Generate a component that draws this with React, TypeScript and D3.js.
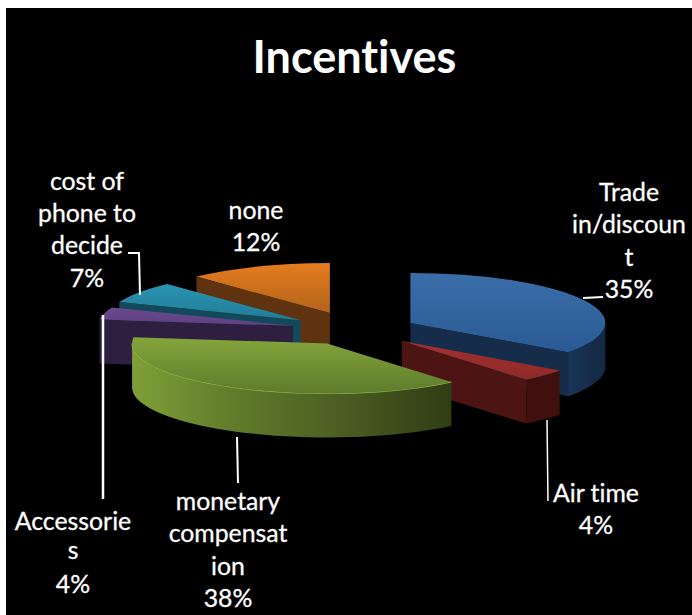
import * as d3 from "d3";
import { useEffect, useRef } from "react";

const categories = ["Trade in/discount", "Air time", "monetary compensation", "Accessories", "cost of phone to decide", "none"];
const shares = [35, 4, 38, 4, 7, 12];

const topColors = [["#3a6ea8", "#2a5a94"], ["#a3302e", "#8e2a28"], ["#84a53c", "#5f7b2c"], ["#6b488f", "#5f4080"], ["#2b93b0", "#1f7d99"], ["#e57c1f", "#b2641a"]];
const wallColors = ["#152c4a", "#4c1412", "#33421a", "#2e1f40", "#134a5b", "#5f330f"];
const rimColors = [["#1a3556", "#132843"], ["#3f100e", "#3f100e"], ["#7f9f38", "#5f7a2a", "#4b5c22", "#2f3d14"], ["#2e1f40", "#2e1f40"], ["#134a5b", "#134a5b"], ["#5f330f", "#5f330f"]];
const explode = [61, 63, 60, 65, 67, 71];
const drawOrder = [5, 0, 4, 3, 1, 2];

const labelLines = [
  { lines: ["Trade", "in/discoun", "t", "35%"], x: 629, y: [201, 233, 266, 298] },
  { lines: ["Air time", "4%"], x: 596, y: [502, 534] },
  { lines: ["monetary", "compensat", "ion", "38%"], x: 228, y: [510, 542, 575, 607] },
  { lines: ["Accessorie", "s", "4%"], x: 73, y: [530, 559, 593] },
  { lines: ["cost of", "phone to", "decide", "7%"], x: 87, y: [190, 222, 254, 287] },
  { lines: ["none", "12%"], x: 256, y: [219, 251] },
];
const leaders = [
  { points: [[583, 298], [603, 297]], width: 2 },
  { points: [[547, 420], [548, 501]], width: 1.5 },
  { points: [[237, 437], [238, 483]], width: 2 },
  { points: [[103, 315], [103, 499]], width: 2.5 },
  { points: [[140, 295], [139, 253], [128, 253]], width: 2 },
];

export default function App() {
  const ref = useRef<SVGSVGElement>(null);

  useEffect(() => {
    const svg = d3.select(ref.current);
    svg.selectAll("*").remove();
    const cx = 356, cy = 330, rx = 195, ry = 50, depth = 44;

    svg.append("rect").attr("width", 692).attr("height", 615).attr("fill", "#fff");
    svg.append("rect").attr("x", 6).attr("y", 8).attr("width", 686).attr("height", 607).attr("fill", "#000");

    const defs = svg.append("defs");
    const slices = d3.pie<number>().sort(null)(shares);

    slices.forEach((s, i) => {
      const top = defs.append("linearGradient").attr("id", `top${i}`).attr("x1", 0).attr("y1", 0).attr("x2", 0).attr("y2", 1);
      topColors[i].forEach((c, k) => top.append("stop").attr("offset", k).attr("stop-color", c));
      const rim = defs.append("linearGradient").attr("id", `rim${i}`);
      rimColors[i].forEach((c, k) => rim.append("stop").attr("offset", k / (rimColors[i].length - 1)).attr("stop-color", c));
    });

    const arc = d3.arc<d3.PieArcDatum<number>>().innerRadius(0).outerRadius(rx);
    const line = d3.line();

    drawOrder.forEach(i => {
      const s = slices[i];
      const mid = (s.startAngle + s.endAngle) / 2;
      const ax = cx + explode[i] * Math.sin(mid);
      const ay = cy - (explode[i] * Math.cos(mid) * ry) / rx;
      const pt = (a: number, dy = 0): [number, number] => [ax + rx * Math.sin(a), ay - ry * Math.cos(a) + dy];
      const g = svg.append("g");

      // radial faces turned to the viewer
      const wall = (a: number) =>
        g.append("path")
          .attr("d", line([[ax, ay], pt(a), pt(a, depth), [ax, ay + depth]]) + "Z")
          .attr("fill", wallColors[i]);
      if (Math.sin(s.startAngle) < 0) wall(s.startAngle);
      if (Math.sin(s.endAngle) > 0) wall(s.endAngle);

      // outer rim, front half only
      const a0 = Math.max(s.startAngle, Math.PI / 2);
      const a1 = Math.min(s.endAngle, (3 * Math.PI) / 2);
      if (a1 > a0) {
        const steps = d3.range(0, 41).map(k => a0 + ((a1 - a0) * k) / 40);
        const upper = steps.map(a => pt(a));
        const lower = steps.map(a => pt(a, depth)).reverse();
        g.append("path").attr("d", line([...upper, ...lower]) + "Z").attr("fill", `url(#rim${i})`);
        if (i === 2) {
          g.append("path").attr("d", line(upper)).attr("fill", "none").attr("stroke", "#94b845").attr("stroke-width", 1.2);
        }
      }

      g.append("path")
        .attr("d", arc(s))
        .attr("transform", `translate(${ax},${ay}) scale(1,${ry / rx})`)
        .attr("fill", `url(#top${i})`);
    });

    svg.selectAll(".leader").data(leaders).join("path")
      .attr("class", "leader")
      .attr("d", d => line(d.points as [number, number][]))
      .attr("fill", "none")
      .attr("stroke", "#fff")
      .attr("stroke-width", d => d.width);

    const font = "Lato, 'Open Sans', sans-serif";
    svg.append("text").text("Incentives")
      .attr("x", 354.5).attr("y", 73)
      .attr("text-anchor", "middle")
      .attr("font-family", font).attr("font-weight", 700).attr("font-size", 45)
      .style("font-variant-ligatures", "none")
      .attr("fill", "#fff");

    labelLines.forEach(l => {
      l.lines.forEach((t, k) => {
        svg.append("text").text(t)
          .attr("x", l.x).attr("y", l.y[k])
          .attr("text-anchor", "middle")
          .attr("font-family", font).attr("font-size", 24.8)
          .style("font-variant-ligatures", "none")
          .attr("fill", "#fff")
          .attr("stroke", "#fff").attr("stroke-width", 0.3);
      });
    });
  }, []);

  return <svg ref={ref} width={692} height={615} style={{ position: "absolute", left: 0, top: 0 }} role="img" aria-label={categories.join(", ")}></svg>;
}
